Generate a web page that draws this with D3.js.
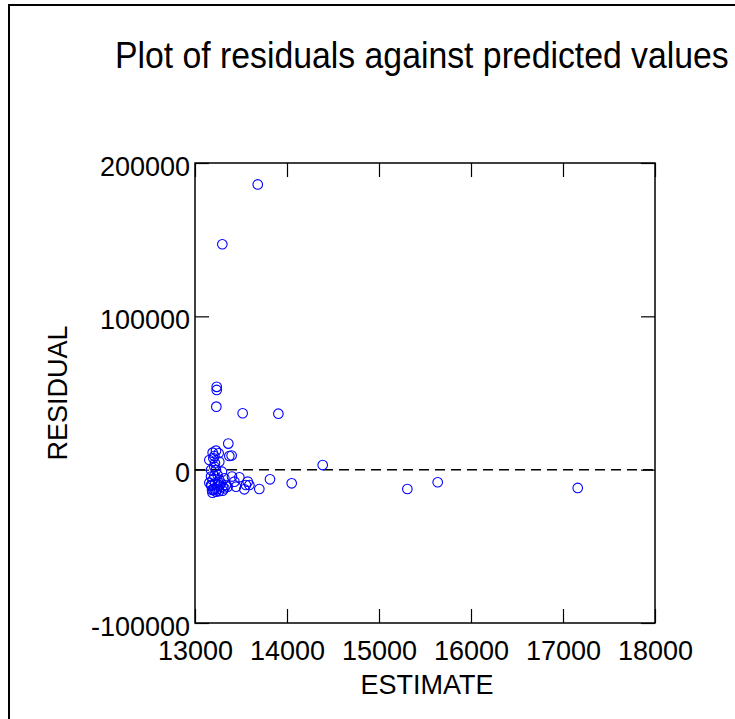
<!DOCTYPE html>
<html>
<head>
<meta charset="utf-8">
<script src="https://cdn.jsdelivr.net/npm/d3@7"></script>
<style>
  html, body { margin: 0; padding: 0; background: #fff; }
  svg { display: block; }
  text { font-family: "Liberation Sans", Arial, sans-serif; fill: #000; }
</style>
</head>
<body>
<svg id="chart" width="735" height="719"></svg>
<script>
// ---- data ----
const title = "Plot of residuals against predicted values";
const xLabel = "ESTIMATE";
const yLabel = "RESIDUAL";
const xTicks = [13000, 14000, 15000, 16000, 17000, 18000];
const yTicks = [-100000, 0, 100000, 200000];
const estimate = [
  13682, 13297, 13236, 13236, 13232, 13518, 13906, 13362, 13192, 13228,
  13210, 13199, 13373, 13398, 13217, 14388, 13174, 13228, 13293, 13815,
  14051, 13699, 13402, 13482, 13573, 13554, 13446, 13536, 13591, 13428,
  13174, 13192, 13174, 13210, 13246, 13283, 13319, 13264, 13337, 13185,
  13228, 13301, 13355, 13156, 13246, 13319, 13210, 13257, 13156, 13264,
  15308, 15638, 17160,
  13180, 13200, 13220, 13240, 13260, 13270, 13190, 13250, 13300, 13210
];
const residual = [
  186000, 147000, 54000, 52000, 41100, 36800, 36500, 17000, 11100, 12400,
  8900, 7400, 8900, 9200, 4200, 3000, -200, -200, -1300, -6300,
  -8900, -12600, -4500, -5000, -7800, -10000, -11100, -12800, -10000, -7800,
  -4500, -6700, -10000, -12200, -11100, -8900, -12200, -6700, -10000, -13200,
  -14300, -13700, -11100, -8500, -3500, -5600, 2000, 10700, 6300, 5200,
  -12600, -8200, -11900,
  -10500, -13000, -9000, -12800, -14000, -10200, -15000, -8000, -11000, -4000
];

// ---- layout ----
const svg = d3.select("#chart");
const L = 195, R = 655, T = 163, B = 623;
const x = d3.scaleLinear().domain([13000, 18000]).range([L, R]);
const y = d3.scaleLinear().domain([-100000, 200000]).range([B, T]);
const tickLen = 14;

// outer border
svg.append("rect")
  .attr("x", 9).attr("y", 5).attr("width", 900).attr("height", 900)
  .attr("fill", "none").attr("stroke", "#000").attr("stroke-width", 2);

// title (slightly condensed like the reference)
svg.append("text")
  .attr("transform", "translate(115,68) scale(0.965,1.05)")
  .attr("font-size", 35)
  .text(title);

// frame
svg.append("rect")
  .attr("x", L).attr("y", T).attr("width", R - L).attr("height", B - T)
  .attr("fill", "none").attr("stroke", "#000").attr("stroke-width", 1.5);

// axes via d3 (inner ticks)
const fmt = d => String(d);
const xAxisB = d3.axisBottom(x).tickValues(xTicks).tickSize(-tickLen).tickFormat(fmt).tickPadding(tickLen + 8);
const xAxisT = d3.axisTop(x).tickValues(xTicks).tickSize(-tickLen).tickFormat("");
const yAxisL = d3.axisLeft(y).tickValues(yTicks).tickSize(-tickLen).tickFormat(fmt).tickPadding(tickLen + 5);
const yAxisR = d3.axisRight(y).tickValues(yTicks).tickSize(-tickLen).tickFormat("");

function style(g) {
  g.select(".domain").remove();
  g.selectAll(".tick line").attr("stroke", "#000").attr("stroke-width", 1.2);
  g.selectAll(".tick text").attr("font-family", "Liberation Sans, Arial, sans-serif")
    .attr("font-size", 27).attr("fill", "#000");
}
const gxb = svg.append("g").attr("transform", `translate(0,${B})`).call(xAxisB).call(style);
gxb.selectAll(".tick text").attr("dy", null).attr("y", 37);
svg.append("g").attr("transform", `translate(0,${T})`).call(xAxisT).call(style);
const gyl = svg.append("g").attr("transform", `translate(${L},0)`).call(yAxisL).call(style);
gyl.selectAll(".tick text").attr("dy", null).attr("y", 12).attr("x", -5);
svg.append("g").attr("transform", `translate(${R},0)`).call(yAxisR).call(style);

// zero reference line
svg.append("line")
  .attr("x1", L).attr("x2", R).attr("y1", y(0)).attr("y2", y(0))
  .attr("stroke", "#000").attr("stroke-width", 1.5)
  .attr("stroke-dasharray", "10,6");

// points
const pts = estimate.map((e, i) => ({ e, r: residual[i] }));
svg.append("g").selectAll("circle").data(pts).join("circle")
  .attr("cx", d => x(d.e)).attr("cy", d => y(d.r)).attr("r", 4.8)
  .attr("fill", "none").attr("stroke", "#0000ff").attr("stroke-width", 1.1);

// axis labels
svg.append("text")
  .attr("x", (L + R) / 2 + 2).attr("y", 694)
  .attr("text-anchor", "middle").attr("font-size", 27)
  .text(xLabel);
svg.append("text")
  .attr("transform", `translate(67,${(T + B) / 2}) rotate(-90)`)
  .attr("text-anchor", "middle").attr("font-size", 27)
  .text(yLabel);
</script>
</body>
</html>
